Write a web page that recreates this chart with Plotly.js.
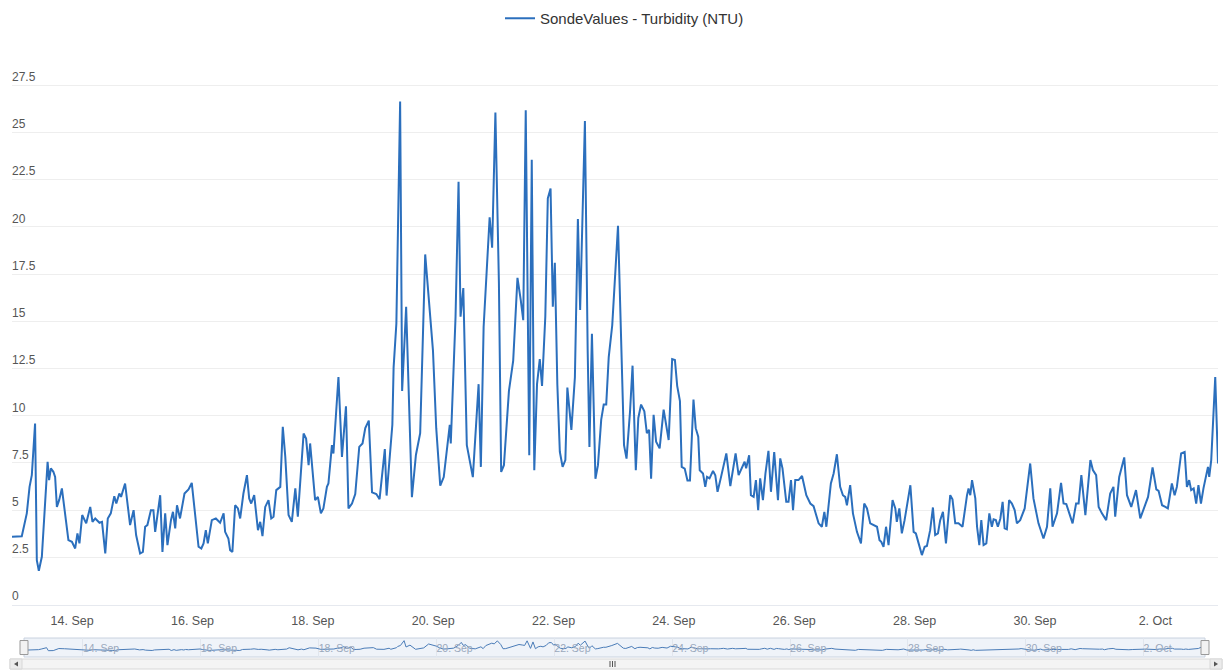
<!DOCTYPE html>
<html>
<head>
<meta charset="utf-8">
<script src="https://cdn.plot.ly/plotly-3.0.1.min.js"></script>
<style>
html,body{margin:0;padding:0;background:#ffffff;}
#chart{width:1225px;height:670px;}
</style>
</head>
<body>
<div id="chart"></div>
<script>
// ---------------- data ----------------
const seriesName = 'SondeValues - Turbidity (NTU)';
const startTime = '2013-09-13T00:00:00Z';
const hoursFromStart = [
0.0,3.9,5.9,7.0,7.9,9.2,9.9,10.7,11.9,14.2,14.8,15.5,16.5,17.2,17.9,18.8,19.9,21.2,22.5,23.9,
25.2,26.1,26.9,28.0,29.6,31.2,32.1,33.2,34.9,35.9,37.2,38.2,39.4,40.8,41.6,42.8,43.5,45.1,47.1,48.5,
49.5,51.1,52.2,53.1,54.0,55.4,56.4,57.1,59.1,60.0,61.1,62.0,63.4,64.2,65.1,65.8,67.0,68.8,70.4,71.7,
72.8,74.4,75.5,76.4,77.3,78.1,79.7,81.3,83.0,84.4,85.0,86.3,87.0,87.9,89.0,90.1,91.0,92.3,93.7,94.6,
95.4,96.6,98.1,99.0,99.9,101.0,102.3,103.4,104.3,105.4,107.0,108.0,109.0,110.3,111.6,113.0,114.0,116.3,117.3,118.3,
118.9,120.9,122.0,123.2,124.2,125.6,126.2,127.6,128.2,130.2,131.6,133.2,134.2,135.6,136.9,138.5,139.8,140.9,142.3,143.6,
145.3,146.6,148.7,149.4,151.7,152.2,153.3,154.8,155.6,157.2,159.5,161.1,162.8,164.8,167.9,169.2,170.8,172.2,174.6,175.0,
176.9,178.1,178.9,180.0,181.4,182.7,183.8,186.1,187.0,188.1,190.5,191.5,192.8,194.2,195.1,196.2,198.2,199.9,201.6,202.9,
203.9,204.9,206.3,207.3,208.3,209.4,210.5,211.4,212.7,213.7,214.8,215.7,216.5,217.5,218.5,219.6,220.7,221.5,223.1,224.5,
225.7,226.6,228.5,229.6,230.3,231.3,232.7,233.7,235.0,236.0,237.0,238.0,239.4,241.7,243.1,244.1,245.1,246.5,247.5,248.8,
249.8,250.9,252.2,253.2,254.1,254.9,255.9,256.9,258.3,259.9,261.9,263.3,264.4,265.3,266.4,267.1,268.3,269.4,270.4,271.8,
272.7,273.7,274.3,275.6,276.5,277.2,278.2,279.6,280.5,281.4,282.8,283.8,284.9,286.5,287.8,288.6,289.8,291.1,292.2,292.8,
294.0,294.7,295.8,296.7,297.6,298.4,299.5,300.5,301.7,302.7,304.0,305.5,306.4,307.3,308.8,309.7,310.7,311.5,312.4,313.7,
315.1,316.8,318.4,319.7,321.7,323.0,324.0,324.8,326.6,327.7,329.0,330.3,331.4,332.3,333.0,334.3,335.4,337.0,338.6,339.9,
341.0,342.3,343.6,345.0,346.0,346.7,347.6,348.6,349.6,351.2,352.3,352.9,353.9,354.9,356.0,357.2,358.3,359.6,360.5,361.6,
362.9,364.0,364.9,366.2,367.3,368.2,369.3,370.2,371.3,372.5,374.2,375.1,376.2,377.5,379.1,380.9,381.5,382.2,382.9,384.2,
384.9,385.8,386.6,387.5,388.6,389.8,390.8,391.5,392.4,393.2,394.2,395.1,395.9,396.8,397.7,398.8,399.9,400.8,402.1,403.9,
405.2,406.1,407.4,409.4,411.4,412.8,414.1,415.0,416.8,418.4,419.4,420.5,421.7,423.0,424.4,425.4,426.5,428.1,430.1,431.1,
432.4,433.4,434.7,436.4,438.0,439.3,440.0,441.6,443.6,444.7,446.4,448.3,450.0,451.6,453.1,454.9,456.4,457.3,458.7,460.0,
461.0,462.6,463.7,464.6,466.3,467.7,468.6,469.5,470.3,471.3,472.3,473.2,474.2,475.2,476.2,477.0,477.5,478.3,479.9,481.0
];
const turbidity = [
3.59,3.62,4.83,6.23,6.85,9.59,2.35,1.79,2.53,7.56,6.59,7.21,7.03,6.76,5.17,5.53,6.15,4.83,3.41,3.32,
2.97,3.77,3.24,4.74,4.30,5.17,4.38,4.56,4.33,4.38,2.71,4.56,4.83,5.74,5.35,5.88,5.70,6.41,4.21,5.00,
3.68,2.71,2.79,4.12,4.21,5.00,5.00,3.85,5.79,2.79,4.83,3.15,4.47,4.91,4.03,5.26,4.56,5.88,6.10,6.44,
5.00,3.06,2.97,3.24,3.94,3.24,4.47,4.56,4.33,4.83,3.85,3.50,2.88,2.79,5.26,5.09,4.56,5.88,6.85,5.62,
5.35,5.79,3.94,4.38,3.62,5.17,5.53,4.56,4.65,6.06,6.23,9.41,7.82,4.74,4.38,6.15,4.65,9.06,8.79,7.38,
8.53,5.53,5.70,4.83,5.09,6.23,6.41,8.44,8.00,12.05,7.82,10.50,5.09,5.35,5.85,8.35,8.53,9.34,9.74,5.94,
5.85,5.58,8.23,5.77,9.52,12.56,14.88,26.64,11.31,15.77,5.68,7.92,9.07,18.54,13.45,9.34,6.30,6.75,9.52,8.53,
15.24,22.39,15.24,16.76,8.44,7.55,6.75,11.67,7.29,14.70,20.51,18.90,26.05,17.03,7.02,7.38,11.31,12.92,17.30,16.13,
15.06,26.18,7.91,23.55,7.11,11.67,13.00,11.58,15.24,21.50,22.03,15.77,18.10,11.67,8.09,7.29,7.65,11.49,9.25,12.02,
20.42,15.60,25.61,13.45,8.35,14.34,6.66,7.38,9.79,10.59,10.59,13.10,14.79,20.06,13.45,8.44,7.73,10.23,12.65,7.11,
9.88,10.59,10.23,9.07,9.25,6.66,10.05,8.62,8.27,10.32,8.71,13.00,12.95,11.58,10.77,7.29,7.20,6.57,6.57,10.86,
9.34,8.89,7.11,6.94,6.23,6.76,6.68,7.08,6.85,5.97,6.76,7.29,8.00,6.27,7.29,8.00,6.85,7.21,7.56,7.21,
7.91,5.79,5.70,6.59,5.00,6.68,5.53,6.94,8.14,5.97,8.08,5.53,7.74,7.21,5.44,5.44,6.59,5.00,6.59,6.59,
6.81,5.79,5.35,5.21,4.30,4.12,4.91,4.12,6.41,6.94,7.96,6.23,5.79,5.70,5.26,6.32,4.83,3.85,3.24,5.35,
5.09,4.30,4.21,4.12,3.41,3.32,3.06,4.12,3.15,5.53,5.09,4.38,5.09,3.77,4.47,5.35,6.32,3.85,3.77,3.24,
2.62,3.06,3.10,3.94,5.14,3.68,3.77,4.47,4.91,3.24,5.79,5.57,4.30,4.30,4.12,5.79,6.15,5.79,6.59,5.62,
4.12,3.15,4.47,3.15,3.24,4.83,4.12,4.51,4.47,4.12,4.56,5.44,4.03,3.98,5.53,5.35,5.00,4.30,4.47,5.09,
6.41,7.47,5.62,4.30,3.50,4.12,6.15,4.12,4.83,6.44,5.35,5.32,4.83,4.30,5.35,5.35,6.85,4.74,7.65,7.12,
6.85,5.17,4.83,4.47,5.88,6.23,4.65,6.76,7.79,5.79,5.17,6.06,4.56,5.17,5.70,7.26,6.10,6.02,5.26,5.17,
5.09,6.41,5.79,6.23,8.00,8.08,6.23,6.59,6.06,6.15,5.35,6.32,5.35,6.15,6.85,7.29,6.76,7.65,12.05,7.47
];
const xTickStart = '2013-09-14';
const xTickDays = 2;
const yTickValues = [0,2.5,5,7.5,10,12.5,15,17.5,20,22.5,25,27.5,30];
const yTickLabels = ['0','2.5','5','7.5','10','12.5','15','17.5','20','22.5','25','27.5',''];

// ---------------- build ----------------
const base = Date.parse(startTime);
function fmt(ms){ return new Date(ms).toISOString().slice(0,19).replace('T',' '); }
const times = hoursFromStart.map(h => fmt(base + Math.round(h*3600000)));
const xRange = [times[0], times[times.length-1]];

const W = 1225, H = 670, ML = 12, MR = 7, MT = 37.5, MB = 0;
const PW = W - ML - MR, PH = H - MT - MB;
const py = p => (H - MB - p) / PH;
const px = p => (p - ML) / PW;

const lineColor = '#2b6fbd';
const font = 'Liberation Sans, Arial, sans-serif';

const traces = [
  {
    type: 'scatter', mode: 'lines', name: seriesName,
    x: times, y: turbidity, xaxis: 'x', yaxis: 'y',
    line: {color: lineColor, width: 2}
  },
  {
    type: 'scatter', mode: 'lines', name: seriesName, showlegend: false, hoverinfo: 'skip',
    x: times, y: turbidity, xaxis: 'x2', yaxis: 'y2',
    line: {color: '#4a7cb8', width: 1}
  }
];

const shapes = [
  // navigator background
  {type:'rect', xref:'x2 domain', yref:'y2 domain', x0:0, x1:1, y0:0, y1:1,
   fillcolor:'rgba(102,133,194,0.10)', line:{color:'#c9d2df', width:1}, layer:'below'},
  // handles
  {type:'rect', xref:'x2 domain', yref:'y2 domain', xsizemode:'pixel', ysizemode:'pixel',
   xanchor:0, yanchor:0.5, x0:-4, x1:4, y0:-7, y1:7, fillcolor:'#f2f2f2', line:{color:'#999', width:1}},
  {type:'rect', xref:'x2 domain', yref:'y2 domain', xsizemode:'pixel', ysizemode:'pixel',
   xanchor:1, yanchor:0.5, x0:-4, x1:4, y0:-7, y1:7, fillcolor:'#f2f2f2', line:{color:'#999', width:1}},
  // scrollbar track
  {type:'rect', xref:'paper', yref:'paper', x0:px(10), x1:px(1222), y0:py(669), y1:py(659),
   fillcolor:'#f4f4f4', line:{color:'#d8d8d8', width:1}},
  {type:'rect', xref:'paper', yref:'paper', x0:px(10), x1:px(22), y0:py(669), y1:py(659),
   fillcolor:'#ececec', line:{color:'#d8d8d8', width:1}},
  {type:'rect', xref:'paper', yref:'paper', x0:px(1210), x1:px(1222), y0:py(669), y1:py(659),
   fillcolor:'#ececec', line:{color:'#d8d8d8', width:1}},
  {type:'path', xref:'paper', yref:'paper',
   path:`M${px(18)},${py(661.5)} L${px(14)},${py(664)} L${px(18)},${py(666.5)} Z`, fillcolor:'#555', line:{width:0}},
  {type:'path', xref:'paper', yref:'paper',
   path:`M${px(1214)},${py(661.5)} L${px(1218)},${py(664)} L${px(1214)},${py(666.5)} Z`, fillcolor:'#555', line:{width:0}},
  {type:'line', xref:'paper', yref:'paper', x0:px(610), x1:px(610), y0:py(667), y1:py(661), line:{color:'#555', width:1}},
  {type:'line', xref:'paper', yref:'paper', x0:px(612.5), x1:px(612.5), y0:py(667), y1:py(661), line:{color:'#555', width:1}},
  {type:'line', xref:'paper', yref:'paper', x0:px(615), x1:px(615), y0:py(667), y1:py(661), line:{color:'#555', width:1}}
];

const layout = {
  width: W, height: H,
  margin: {l: ML, r: MR, t: MT, b: MB, pad: 0},
  paper_bgcolor: '#ffffff', plot_bgcolor: '#ffffff',
  font: {family: font, size: 12, color: '#555'},
  showlegend: true,
  legend: {
    orientation: 'h', x: px(500), xanchor: 'left', y: py(18), yanchor: 'middle',
    font: {family: font, size: 15, color: '#333'}, bgcolor: 'rgba(0,0,0,0)'
  },
  xaxis: {
    domain: [0, 1], anchor: 'y', type: 'date', range: xRange,
    tick0: xTickStart, dtick: xTickDays * 86400000, tickformat: '%-d. %b',
    showgrid: false, zeroline: false, showline: true, linecolor: '#e6e9ef', linewidth: 1,
    ticks: '', ticklabelstandoff: 4,
    tickfont: {family: font, size: 12.5, color: '#555'}
  },
  yaxis: {
    domain: [py(604.5), 1], anchor: 'x', range: [0, 30],
    tickmode: 'array', tickvals: yTickValues, ticktext: yTickLabels,
    ticklabelposition: 'inside top', ticklabelstandoff: -3,
    showgrid: true, gridcolor: '#eeeeee', gridwidth: 1,
    zeroline: false, showline: false, ticks: '',
    tickfont: {family: font, size: 12, color: '#555'}
  },
  xaxis2: {
    domain: [px(24), px(1205)], anchor: 'y2', type: 'date', range: xRange,
    tick0: xTickStart, dtick: xTickDays * 86400000, tickformat: '%-d. %b',
    ticklabelposition: 'inside right', ticks: '', ticklabelstandoff: -3,
    showgrid: true, gridcolor: '#e1e6ee', zeroline: false, showline: false,
    tickfont: {family: font, size: 10.5, color: '#9aa8bc'}
  },
  yaxis2: {
    domain: [py(657), py(638)], anchor: 'x2', range: [-13, 33],
    showgrid: false, zeroline: false, showticklabels: false, ticks: '', showline: false
  },
  shapes: shapes
};

Plotly.newPlot('chart', traces, layout, {displayModeBar: false, staticPlot: true});
</script>
</body>
</html>
